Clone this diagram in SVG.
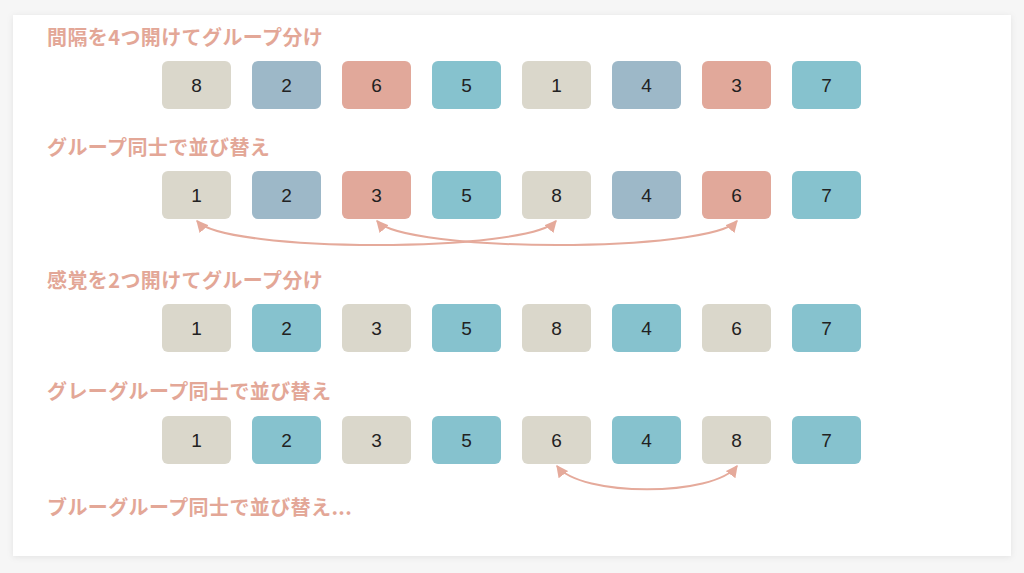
<svg xmlns="http://www.w3.org/2000/svg" width="1024" height="573" viewBox="0 0 1024 573">
<defs>
<style>
.title{font-family:"Noto Sans CJK JP","Noto Sans",sans-serif;font-weight:700;font-size:20px;letter-spacing:0.4px;fill:#e3a797}
.num{font-family:"Liberation Sans",Arial,sans-serif;font-size:19px;fill:#222;text-anchor:middle}
.bx{rx:6;ry:6}
.be{fill:#dad7cb}
.bg{fill:#9db8c8}
.sa{fill:#e1a89a}
.te{fill:#86c2ce}
.conn{fill:none;stroke:#e5aa9b;stroke-width:2;marker-start:url(#ah);marker-end:url(#ah)}
</style>
<marker id="ah" viewBox="0 0 10 10" refX="9" refY="5" markerWidth="6" markerHeight="6" orient="auto-start-reverse" markerUnits="strokeWidth">
<path d="M0,0 L10,5 L0,10 z" fill="#e5aa9b"/>
</marker>
<filter id="sh" x="-5%" y="-5%" width="110%" height="110%">
<feDropShadow dx="0" dy="1" stdDeviation="3" flood-color="#000" flood-opacity="0.08"/>
</filter>
</defs>
<rect x="0" y="0" width="1024" height="573" fill="#f6f6f6"/>
<rect x="13" y="15" width="998" height="541" fill="#ffffff" filter="url(#sh)"/>

<g id="titles">
<text class="title" x="47" y="45">間隔を4つ開けてグループ分け</text>
<text class="title" x="47" y="155">グループ同士で並び替え</text>
<text class="title" x="47" y="288">感覚を2つ開けてグループ分け</text>
<text class="title" x="47" y="399">グレーグループ同士で並び替え</text>
<text class="title" x="47" y="515">ブルーグループ同士で並び替え...</text>
</g>

<g id="row1">
<g id="r1n1"><rect class="bx be" x="162" y="61" width="69" height="48"/><text class="num" x="196.5" y="92">8</text></g>
<g id="r1n2"><rect class="bx bg" x="252" y="61" width="69" height="48"/><text class="num" x="286.5" y="92">2</text></g>
<g id="r1n3"><rect class="bx sa" x="342" y="61" width="69" height="48"/><text class="num" x="376.5" y="92">6</text></g>
<g id="r1n4"><rect class="bx te" x="432" y="61" width="69" height="48"/><text class="num" x="466.5" y="92">5</text></g>
<g id="r1n5"><rect class="bx be" x="522" y="61" width="69" height="48"/><text class="num" x="556.5" y="92">1</text></g>
<g id="r1n6"><rect class="bx bg" x="612" y="61" width="69" height="48"/><text class="num" x="646.5" y="92">4</text></g>
<g id="r1n7"><rect class="bx sa" x="702" y="61" width="69" height="48"/><text class="num" x="736.5" y="92">3</text></g>
<g id="r1n8"><rect class="bx te" x="792" y="61" width="69" height="48"/><text class="num" x="826.5" y="92">7</text></g>
</g>

<g id="row2">
<g id="r2n1"><rect class="bx be" x="162" y="171" width="69" height="48"/><text class="num" x="196.5" y="202">1</text></g>
<g id="r2n2"><rect class="bx bg" x="252" y="171" width="69" height="48"/><text class="num" x="286.5" y="202">2</text></g>
<g id="r2n3"><rect class="bx sa" x="342" y="171" width="69" height="48"/><text class="num" x="376.5" y="202">3</text></g>
<g id="r2n4"><rect class="bx te" x="432" y="171" width="69" height="48"/><text class="num" x="466.5" y="202">5</text></g>
<g id="r2n5"><rect class="bx be" x="522" y="171" width="69" height="48"/><text class="num" x="556.5" y="202">8</text></g>
<g id="r2n6"><rect class="bx bg" x="612" y="171" width="69" height="48"/><text class="num" x="646.5" y="202">4</text></g>
<g id="r2n7"><rect class="bx sa" x="702" y="171" width="69" height="48"/><text class="num" x="736.5" y="202">6</text></g>
<g id="r2n8"><rect class="bx te" x="792" y="171" width="69" height="48"/><text class="num" x="826.5" y="202">7</text></g>
</g>

<g id="row3">
<g id="r3n1"><rect class="bx be" x="162" y="304" width="69" height="48"/><text class="num" x="196.5" y="335">1</text></g>
<g id="r3n2"><rect class="bx te" x="252" y="304" width="69" height="48"/><text class="num" x="286.5" y="335">2</text></g>
<g id="r3n3"><rect class="bx be" x="342" y="304" width="69" height="48"/><text class="num" x="376.5" y="335">3</text></g>
<g id="r3n4"><rect class="bx te" x="432" y="304" width="69" height="48"/><text class="num" x="466.5" y="335">5</text></g>
<g id="r3n5"><rect class="bx be" x="522" y="304" width="69" height="48"/><text class="num" x="556.5" y="335">8</text></g>
<g id="r3n6"><rect class="bx te" x="612" y="304" width="69" height="48"/><text class="num" x="646.5" y="335">4</text></g>
<g id="r3n7"><rect class="bx be" x="702" y="304" width="69" height="48"/><text class="num" x="736.5" y="335">6</text></g>
<g id="r3n8"><rect class="bx te" x="792" y="304" width="69" height="48"/><text class="num" x="826.5" y="335">7</text></g>
</g>

<g id="row4">
<g id="r4n1"><rect class="bx be" x="162" y="416" width="69" height="48"/><text class="num" x="196.5" y="447">1</text></g>
<g id="r4n2"><rect class="bx te" x="252" y="416" width="69" height="48"/><text class="num" x="286.5" y="447">2</text></g>
<g id="r4n3"><rect class="bx be" x="342" y="416" width="69" height="48"/><text class="num" x="376.5" y="447">3</text></g>
<g id="r4n4"><rect class="bx te" x="432" y="416" width="69" height="48"/><text class="num" x="466.5" y="447">5</text></g>
<g id="r4n5"><rect class="bx be" x="522" y="416" width="69" height="48"/><text class="num" x="556.5" y="447">6</text></g>
<g id="r4n6"><rect class="bx te" x="612" y="416" width="69" height="48"/><text class="num" x="646.5" y="447">4</text></g>
<g id="r4n7"><rect class="bx be" x="702" y="416" width="69" height="48"/><text class="num" x="736.5" y="447">8</text></g>
<g id="r4n8"><rect class="bx te" x="792" y="416" width="69" height="48"/><text class="num" x="826.5" y="447">7</text></g>
</g>

<g id="connectors">
<path class="conn" d="M197,221 C225,253 528,253 556,221"/>
<path class="conn" d="M377,221 C405,253 709,253 737,221"/>
<path class="conn" d="M557,466 C580,497 714,497 737,466"/>
</g>
</svg>
